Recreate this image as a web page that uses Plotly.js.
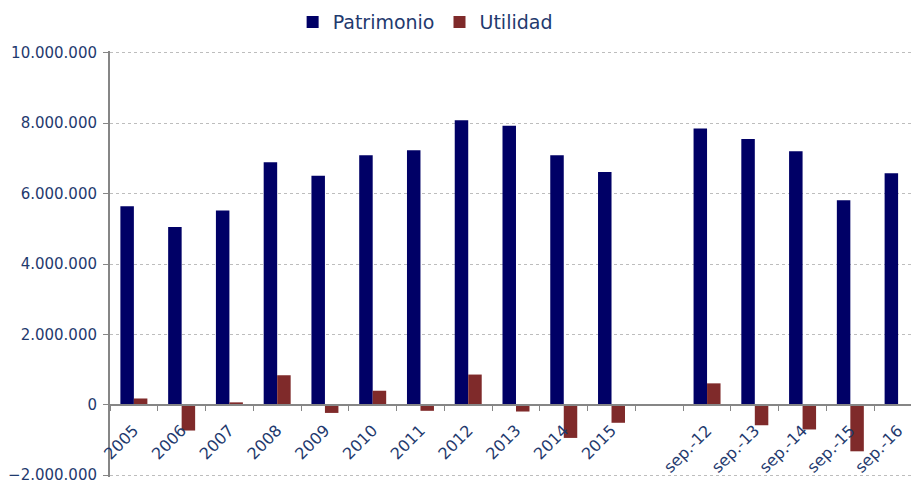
<!DOCTYPE html>
<html>
<head>
<meta charset="utf-8">
<script src="https://cdn.plot.ly/plotly-3.0.1.min.js"></script>
<style>
  body { margin: 0; background: #fff; }
  #chart { width: 911px; height: 483px; }
</style>
</head>
<body>
<div id="chart"></div>
<script>
// periods (the blank one is the gap between yearly and september figures)
var periods = ["2005", "2006", "2007", "2008", "2009", "2010", "2011", "2012", "2013", "2014", "2015",
  " ", "sep.-12", "sep.-13", "sep.-14", "sep.-15", "sep.-16"];

var patrimonio = [5640000, 5050000, 5520000, 6890000, 6510000, 7090000, 7230000, 8080000, 7930000, 7090000, 6610000,
  null, 7850000, 7550000, 7200000, 5810000, 6580000];

var utilidad = [180000, -730000, 70000, 840000, -230000, 400000, -170000, 860000, -190000, -940000, -510000,
  null, 610000, -580000, -700000, -1320000, null];

var yTicks = [-2000000, 0, 2000000, 4000000, 6000000, 8000000, 10000000];

var txtColor = "#1F3A6E";
var axisGray = "#868686";

var tracePat = {
  x: periods,
  y: patrimonio,
  name: "Patrimonio",
  type: "bar",
  marker: { color: "#000066" },
  hoverinfo: "skip"
};

var traceUtil = {
  x: periods,
  y: utilidad,
  name: "Utilidad",
  type: "bar",
  marker: { color: "#7F2A2A" },
  hoverinfo: "skip"
};

// y range padded a little so the -2.000.000 and 10.000.000 ticks are kept
var layout = {
  width: 911,
  height: 483,
  margin: { l: 110, r: 0, t: 51, b: 6 },
  paper_bgcolor: "#fff",
  plot_bgcolor: "#fff",
  separators: ",.",
  font: { family: "DejaVu Sans, Verdana, sans-serif", color: txtColor, size: 15 },
  barmode: "group",
  bargap: 0.435,
  bargroupgap: 0,
  showlegend: true,
  legend: {
    orientation: "h",
    x: 0.228,
    xanchor: "left",
    y: 1.068,
    yanchor: "middle",
    font: { size: 19, color: txtColor },
    traceorder: "normal"
  },
  xaxis: {
    type: "category",
    categoryorder: "array",
    categoryarray: periods,
    range: [-0.5, 16.27],
    anchor: "free",
    position: 2.05 / 12.1,
    showline: true,
    linecolor: axisGray,
    linewidth: 2,
    ticks: "outside",
    tickson: "boundaries",
    ticklen: 5,
    tickcolor: axisGray,
    tickwidth: 1,
    tickangle: -45,
    ticklabelstandoff: 9,
    tickfont: { size: 16, color: txtColor },
    showgrid: false,
    zeroline: false,
    fixedrange: true
  },
  yaxis: {
    range: [-2050000, 10050000],
    tickvals: yTicks,
    tickformat: ",d",
    showline: true,
    linecolor: axisGray,
    linewidth: 2,
    ticks: "outside",
    ticklen: 5,
    tickcolor: axisGray,
    ticklabelstandoff: 3,
    ticklabeloverflow: "allow",
    tickfont: { size: 15, color: txtColor },
    showgrid: true,
    gridcolor: "#BDBDBD",
    griddash: "dot",
    gridwidth: 1,
    zeroline: false,
    fixedrange: true
  }
};

Plotly.newPlot("chart", [tracePat, traceUtil], layout, { displayModeBar: false, staticPlot: true });
</script>
</body>
</html>
